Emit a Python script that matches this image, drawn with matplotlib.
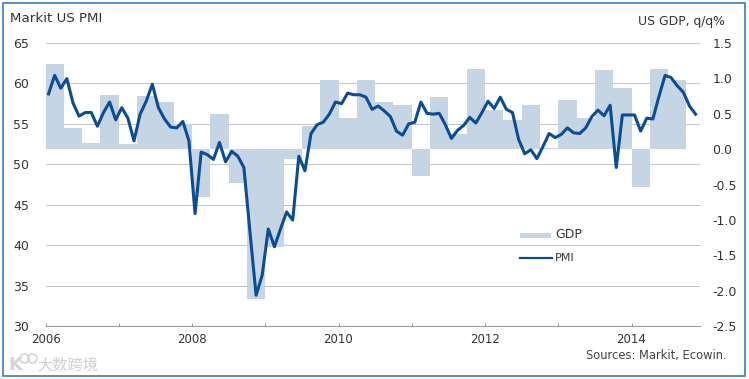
import numpy as np
import matplotlib
matplotlib.use("Agg")
import matplotlib.pyplot as plt
from matplotlib.patches import Rectangle

gdp = [1.2, 0.3, 0.09, 0.77, 0.07, 0.75, 0.67, 0.36, -0.67, 0.49, -0.48, -2.12,
       -1.38, -0.14, 0.33, 0.97, 0.44, 0.97, 0.67, 0.63, -0.38, 0.73, 0.22, 1.13,
       0.55, 0.41, 0.62, 0.01, 0.69, 0.44, 1.12, 0.87, -0.54, 1.13, 0.97]
pmi = [58.7, 61.0, 59.4, 60.6, 57.6, 55.95, 56.4, 56.4, 54.7, 56.4, 57.7, 55.5,
       57.0, 55.7, 52.9, 56.2, 57.8, 59.9, 57.0, 55.6, 54.6, 54.5, 55.3, 52.9,
       43.9, 51.5, 51.2, 50.6, 52.7, 50.3, 51.6, 51.0, 49.6, 41.6, 33.8, 36.3,
       42.0, 39.8, 42.0, 44.1, 43.1, 51.0, 49.2, 53.8, 54.9, 55.2, 56.2, 57.7,
       57.5, 58.8, 58.6, 58.6, 58.3, 56.8, 57.2, 56.6, 55.9, 54.1, 53.6, 55.0,
       55.2, 57.7, 56.3, 56.2, 56.3, 54.9, 53.2, 54.2, 54.8, 55.8, 55.1, 56.4,
       57.8, 56.9, 58.3, 56.8, 56.4, 53.1, 51.3, 51.8, 50.7, 52.2, 53.8, 53.3,
       53.7, 54.5, 53.9, 53.8, 54.5, 55.9, 56.7, 56.0, 57.3, 49.6, 56.1, 56.1,
       56.1, 54.1, 55.7, 55.6, 58.4, 61.0, 60.7, 59.7, 58.9, 57.2, 56.2]
left_ticks = [30, 35, 40, 45, 50, 55, 60, 65]
right_ticks = [-2.5, -2.0, -1.5, -1.0, -0.5, 0.0, 0.5, 1.0, 1.5]

W, H = 749, 379
plt.rcParams["font.family"] = ["DejaVu Sans", "Noto Sans CJK SC"]
TXT = "#333333"
fig = plt.figure(figsize=(W / 100, H / 100), dpi=100)
x0, x1, ytop, ybot = 45.5, 700, 43, 326
ax = fig.add_axes([x0 / W, 1 - ybot / H, (x1 - x0) / W, (ybot - ytop) / H])
ax2 = ax.twinx()
ax.set_zorder(1); ax2.set_zorder(2)
for a in (ax, ax2):
    a.patch.set_visible(False)
    for s in a.spines.values():
        s.set_visible(False)

xlim = (2006, 2006 + (x1 - x0) / 73.25)
ax.set_xlim(xlim); ax2.set_xlim(xlim)
ax.set_ylim(30, 65); ax2.set_ylim(-2.5, 1.5)

ax.set_yticks(left_ticks)
ax.set_yticklabels([str(t) for t in left_ticks], fontsize=9, color=TXT)
ax.tick_params(axis="y", length=0, pad=12)
ax.yaxis.grid(True, color="#c4c4c4", lw=0.7, zorder=0)
ax.set_axisbelow(True)
ax.spines["bottom"].set_visible(True)
ax.spines["bottom"].set_color("#999999")
ax.spines["bottom"].set_linewidth(0.8)

years = np.arange(2006, 2015)
ax.set_xticks(years)
ax.set_xticklabels([str(y) if y % 2 == 0 else "" for y in years], fontsize=8.5, color=TXT)
ax.tick_params(axis="x", direction="in", length=2.5, width=0.7, color="#999999", pad=5)

ax2.set_yticks(right_ticks)
ax2.set_yticklabels([f"{t:.1f}" for t in right_ticks], fontsize=9, color=TXT)
ax2.tick_params(axis="y", length=0, pad=9)

qx = 2006 + np.arange(len(gdp)) * 0.25
ax2.bar(qx, gdp, width=0.25, align="edge", color="#c5d5e4", lw=0, zorder=2, label="GDP")
mx = 2006 + (np.arange(len(pmi)) + 0.5) / 12
ax2.plot(mx, np.interp(pmi, [30, 65], [-2.5, 1.5]), color="#0b4c97", lw=2.2, zorder=3,
         solid_joinstyle="round", label="PMI")

fig.text(10 / W, 1 - 19 / H, "Markit US PMI", fontsize=9.6, color=TXT, va="center")
fig.text(638 / W, 1 - 22 / H, "US GDP, q/q%", fontsize=8.9, color=TXT, va="center")
fig.text(586 / W, 1 - 355 / H, "Sources: Markit, Ecowin.", fontsize=8.3, color="#444444", va="center")

def px(x, y):
    return x / W, 1 - y / H
fig.add_artist(Rectangle(px(520, 238), 31 / W, 5 / H, color="#c5d5e4", lw=0))
fig.add_artist(plt.Line2D([520 / W, 552 / W], [1 - 258 / H] * 2, color="#0b4c97", lw=1.6))
fig.text(555 / W, 1 - 235 / H, "GDP", fontsize=9, color=TXT, va="center")
fig.text(555 / W, 1 - 258 / H, "PMI", fontsize=8, color=TXT, va="center")

# watermark
fig.text(37 / W, 1 - 365 / H, "大数跨境", fontsize=11, color="#cfcfcf", va="center")
fig.text(8 / W, 1 - 365 / H, "K", fontsize=13, color="#d5d5d5", va="center", fontweight="bold")
for cx in (24, 32):
    fig.add_artist(plt.Line2D([cx / W], [1 - 358 / H], marker="o", ms=6.5, mfc="none",
                              mec="#d5d5d5", mew=1.2))

fig.add_artist(Rectangle((3 / W, 1 - 375.5 / H), 742 / W, 372.5 / H, fill=False,
                         edgecolor="#3a7abf", lw=1.2))
fig.savefig("out.png", dpi=100)
